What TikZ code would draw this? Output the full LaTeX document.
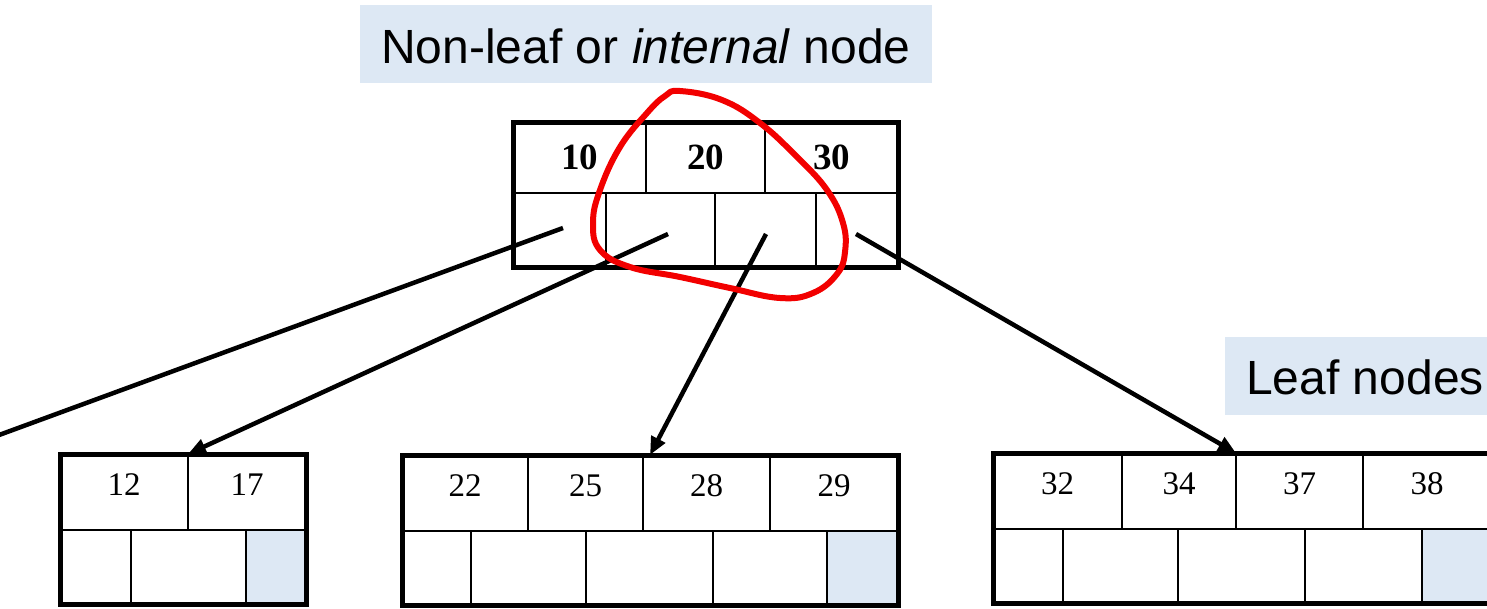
\documentclass[tikz,border=0pt]{standalone}
\usepackage{fontspec}
\setmainfont{Liberation Serif}
\setsansfont{Liberation Sans}
\definecolor{LabelBlue}{HTML}{DDE8F4}
\definecolor{MarkRed}{HTML}{F20000}
\usetikzlibrary{positioning, arrows.meta, fit}

\begin{document}
\begin{tikzpicture}[x=1pt, y=-1pt,
    slot/.style={draw, line width=2.5pt, inner sep=0pt, outer sep=0pt},
    rootkey/.style={slot, minimum height=71pt, font=\bfseries\fontsize{37}{44}\selectfont},
    rootptr/.style={slot, minimum height=74pt},
    leafkey/.style={slot, minimum height=76pt, text height=23pt, text depth=17pt,
                    font=\fontsize{33}{40}\selectfont},
    leafptr/.style={slot, minimum height=74pt},
    boxframe/.style={draw, line width=5pt, inner sep=0pt},
    ptr/.style={line width=4.5pt, -{Triangle[length=18pt, width=15pt]}},
    tagbox/.style={fill=LabelBlue, inner sep=0pt, text height=58pt, text depth=20pt,
                   font=\sffamily\fontsize{48}{58}\selectfont},
    lasso/.style={draw=MarkRed, line width=6pt, line join=round}]
  \useasboundingbox (0,0) rectangle (1487,608);

  % captions
  \node[tagbox, minimum width=572pt] (innertag) at (646,44) {Non-leaf or \textit{internal} node};
  \node[tagbox, minimum width=280pt] (leaftag) at (1365,375.5) {Leaf nodes};

  % internal node: keys on top, child pointers below
  \node[rootkey, minimum width=133pt, anchor=north west] (k10) at (513,122) {10};
  \node[rootkey, minimum width=119pt, right=0pt of k10] (k20) {20};
  \node[rootkey, minimum width=133pt, right=0pt of k20] (k30) {30};
  \node[rootptr, minimum width=93pt, anchor=north west] (rp0) at (k10.south west) {};
  \node[rootptr, minimum width=109pt, right=0pt of rp0] (rp1) {};
  \node[rootptr, minimum width=101pt, right=0pt of rp1] (rp2) {};
  \node[rootptr, minimum width=82pt, right=0pt of rp2] (rp3) {};
  \node[boxframe, fit=(k10)(rp3)] (root) {};

  % leaf 1
  \node[leafkey, minimum width=128pt, anchor=north west] (k12) at (60,454) {12};
  \node[leafkey, minimum width=118pt, right=0pt of k12] (k17) {17};
  \node[leafptr, minimum width=71pt, anchor=north west] (ap0) at (k12.south west) {};
  \node[leafptr, minimum width=115pt, right=0pt of ap0] (ap1) {};
  \node[leafptr, minimum width=60pt, fill=LabelBlue, right=0pt of ap1] (ap2) {};
  \node[boxframe, fit=(k12)(ap2)] (leafA) {};

  % leaf 2
  \node[leafkey, minimum width=126pt, anchor=north west] (k22) at (402,455) {22};
  \node[leafkey, minimum width=115pt, right=0pt of k22] (k25) {25};
  \node[leafkey, minimum width=127pt, right=0pt of k25] (k28) {28};
  \node[leafkey, minimum width=128pt, right=0pt of k28] (k29) {29};
  \node[leafptr, minimum width=69pt, anchor=north west] (bp0) at (k22.south west) {};
  \node[leafptr, minimum width=115pt, right=0pt of bp0] (bp1) {};
  \node[leafptr, minimum width=127pt, right=0pt of bp1] (bp2) {};
  \node[leafptr, minimum width=114pt, right=0pt of bp2] (bp3) {};
  \node[leafptr, minimum width=71pt, fill=LabelBlue, right=0pt of bp3] (bp4) {};
  \node[boxframe, fit=(k22)(bp4)] (leafB) {};

  % leaf 3
  \node[leafkey, minimum width=129pt, anchor=north west] (k32) at (993,453) {32};
  \node[leafkey, minimum width=114pt, right=0pt of k32] (k34) {34};
  \node[leafkey, minimum width=127pt, right=0pt of k34] (k37) {37};
  \node[leafkey, minimum width=128pt, right=0pt of k37] (k38) {38};
  \node[leafptr, minimum width=70pt, anchor=north west] (cp0) at (k32.south west) {};
  \node[leafptr, minimum width=115pt, right=0pt of cp0] (cp1) {};
  \node[leafptr, minimum width=127pt, right=0pt of cp1] (cp2) {};
  \node[leafptr, minimum width=117pt, right=0pt of cp2] (cp3) {};
  \node[leafptr, minimum width=69pt, fill=LabelBlue, right=0pt of cp3] (cp4) {};
  \node[boxframe, fit=(k32)(cp4)] (leafC) {};

  % child pointers
  \coordinate (s0) at (563,228);
  \coordinate (s1) at (668,234);
  \coordinate (s2) at (766,234);
  \coordinate (s3) at (856,234);
  \coordinate (offleft) at (-20,442);
  \draw[line width=4.5pt] (s0) -- (offleft);
  \draw[ptr] (s1) -- (k12.north east);
  \draw[ptr] (s2) -- ([xshift=7pt]k28.north west);
  \draw[ptr] (s3) -- (k37.north west);

  % hand-drawn ring round the middle keys
  \draw[lasso] plot[smooth cycle, tension=0.7] coordinates {
    (680,91) (722,100) (760,123) (797,157) (827,190) (843,223) (845,252)
    (837,274) (813,293) (780,298) (730,288) (680,277) (630,267) (600,250)
    (593,223) (600,190) (620,147) (647,113) (665,96)};
\end{tikzpicture}
\end{document}
